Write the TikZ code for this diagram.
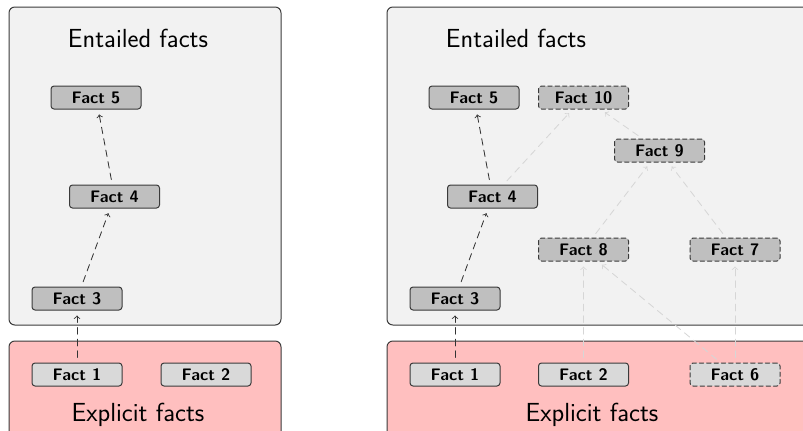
\documentclass[tikz,border=0pt]{standalone}
\usetikzlibrary{arrows}
\definecolor{boxgray}{HTML}{F2F2F2}
\definecolor{boxred}{HTML}{FFBFBF}
\definecolor{factdark}{HTML}{BFBFBF}
\definecolor{factlight}{HTML}{D9D9D9}
\definecolor{edgegray}{HTML}{3A3A3A}
\definecolor{newgray}{HTML}{D6D6D6}
\begin{document}
\begin{tikzpicture}[x=0.6pt,y=-0.6pt,line join=round,line cap=round,>=to]
    \tikzset{panel/.style={draw=edgegray,line width=0.6pt,rounded corners=3.5pt},
        fact/.style={draw=edgegray,line width=0.6pt,rounded corners=1.8pt,fill=factdark,
            minimum width=54pt,minimum height=13.8pt,inner sep=0pt,font=\sffamily\bfseries},
        explicit/.style={fact,fill=factlight},
        derived/.style={dashed,dash pattern=on 2.6pt off 1.8pt},
        deriv/.style={->,dashed,dash pattern=on 4pt off 3pt,line width=0.5pt,black!80,shorten >=3pt,shorten <=3pt},
        newderiv/.style={deriv,newgray},
        title/.style={font=\sffamily\fontsize{15.7}{19}\selectfont}}
    %% limits of the page
    \def \xmax{803}
    \def \ymax{430}
    \useasboundingbox (0,0) rectangle (\xmax,\ymax);
    \clip (0,0) rectangle (\xmax,\ymax);
    %% left: before
    \draw[panel,fill=boxgray] (9,7) rectangle (281,325);
    \draw[panel,fill=boxred] (9,341) rectangle (281,440);
    \node[title] (Lent) at (138,38) {Entailed facts};
    \node[title] (Lexp) at (138,415) {Explicit facts};
    \node[fact] (LF5) at (96,97.5) {Fact 5};
    \node[fact] (LF4) at (114.5,196.5) {Fact 4};
    \node[fact] (LF3) at (77,298.5) {Fact 3};
    \node[explicit] (LF1) at (77,374.5) {Fact 1};
    \node[explicit] (LF2) at (206,374.5) {Fact 2};
    \foreach \a/\b in {1/3,3/4,4/5} \draw[deriv] (LF\a) -- (LF\b);
    %% right: after adding fact 6
    \draw[panel,fill=boxgray] (387,7) rectangle (840,325);
    \draw[panel,fill=boxred] (387,341) rectangle (840,440);
    \node[title] (Rent) at (516,38) {Entailed facts};
    \node[title] (Rexp) at (592,415) {Explicit facts};
    \node[fact] (RF5) at (474,97.5) {Fact 5};
    \node[fact,derived] (RF10) at (583.5,97.5) {Fact 10};
    \node[fact,derived] (RF9) at (659.5,150.5) {Fact 9};
    \node[fact] (RF4) at (492.5,196.5) {Fact 4};
    \node[fact,derived] (RF8) at (583.5,249.5) {Fact 8};
    \node[fact,derived] (RF7) at (735,249.5) {Fact 7};
    \node[fact] (RF3) at (455,298.5) {Fact 3};
    \node[explicit] (RF1) at (455,374.5) {Fact 1};
    \node[explicit] (RF2) at (583.5,374.5) {Fact 2};
    \node[explicit,derived] (RF6) at (735,374.5) {Fact 6};
    \foreach \a/\b in {1/3,3/4,4/5} \draw[deriv] (RF\a) -- (RF\b);
    \foreach \a/\b in {4/10,9/10,8/9,7/9,2/8,6/8,6/7} \draw[newderiv] (RF\a) -- (RF\b);
\end{tikzpicture}
\end{document}
